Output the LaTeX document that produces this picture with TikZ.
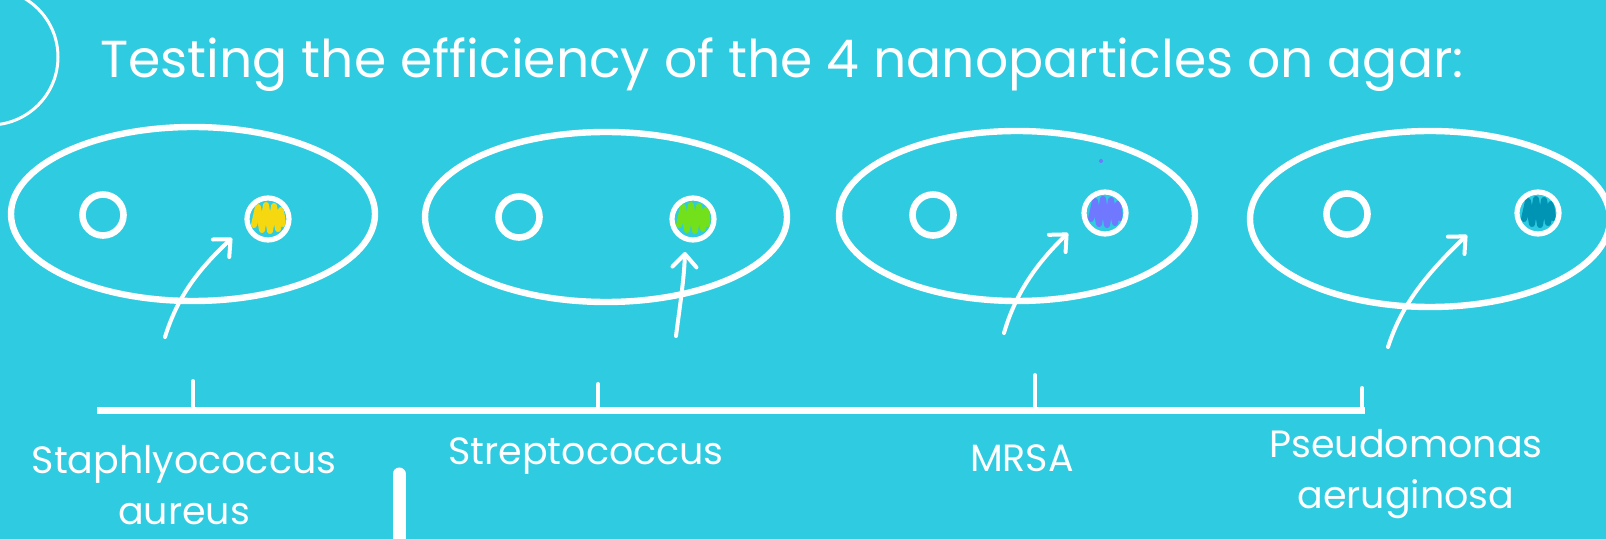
\documentclass[tikz,border=0pt]{standalone}
\usepackage{fontspec}
\setmainfont{Poppins}
\usetikzlibrary{shapes.geometric,arrows.meta}
\definecolor{bgcyan}{RGB}{47,203,224}
\definecolor{scribY}{RGB}{245,216,16}
\definecolor{scribG}{RGB}{114,224,26}
\definecolor{scribB}{RGB}{111,120,255}
\definecolor{scribT}{RGB}{0,148,180}
\tikzset{
  dish/.style={ellipse, draw=white, line width=3.2pt, inner sep=0pt},
  well/.style={circle, draw=white, line width=3.3pt, minimum size=20.5pt, inner sep=0pt},
  pointer/.style={draw=white, line width=2pt, line cap=round,
    -{Straight Barb[length=6.5pt,width=12pt,line cap=round,line join=round]}},
  tickmark/.style={draw=white, line width=2pt, line cap=round},
  lbl/.style={text=white, font=\fontsize{19}{25.5}\selectfont, align=center, inner sep=0pt},
  scrib/.style={draw=#1, line width=3pt, line join=round, line cap=round}
}
\begin{document}
\begin{tikzpicture}[x=0.5pt,y=-0.5pt]
\useasboundingbox (0,0) rectangle (1606,539);
\clip (0,0) rectangle (1606,539);
\fill[bgcyan] (0,0) rectangle (1606,539);

% top-left decorative circle
\draw[white, line width=1.5pt] (-10,57) circle (34pt);

% title
\node[anchor=base west, text=white, inner sep=0pt, font=\fontsize{26}{30}\selectfont] (title) at (100,78)
  {Testing the efficiency of the 4 nanoparticles on agar:};

% dishes
\node[dish, minimum width=182pt, minimum height=87pt] (d1) at (193,214) {};
\node[dish, minimum width=181pt, minimum height=85pt] (d2) at (606,217) {};
\node[dish, minimum width=178pt, minimum height=85pt] (d3) at (1017,216) {};
\node[dish, minimum width=180pt, minimum height=88pt] (d4) at (1430,219) {};

% control wells
\node[well] (w1a) at (103,215) {};
\node[well] (w2a) at (519,217) {};
\node[well] (w3a) at (933,215) {};
\node[well] (w4a) at (1347,214) {};

% treated wells (scribbles)
\foreach \n/\px/\py/\c in {w1b/268/219/scribY, w2b/693/219/scribG, w3b/1105/213/scribB, w4b/1538/213/scribT}{
  \begin{scope}
    \clip (\px,\py) circle (9pt);
    \draw[scrib=\c, shift={(\px,\py)}] (-14,6) -- (-10,-12) -- (-6,11) -- (-2,-14) -- (2,12) -- (6,-13) -- (10,10) -- (13,-9) -- (15,5);
  \end{scope}
  \node[circle, draw=white, line width=2.6pt, minimum size=21pt, inner sep=0pt] (\n) at (\px,\py) {};
}

% stray dot
\fill[scribB] (1101,161) circle (1pt);

% arrows
\coordinate (a1t) at (165,337); \coordinate (a1h) at (232,238);
\coordinate (a2t) at (676,336); \coordinate (a2h) at (685,252);
\coordinate (a3t) at (1004,333); \coordinate (a3h) at (1068,233);
\coordinate (a4t) at (1388,347); \coordinate (a4h) at (1467,235);
\draw[pointer] (a1t) .. controls (178,295) and (200,268) .. (a1h);
\draw[pointer] (a2t) .. controls (680,305) and (684,280) .. (a2h);
\draw[pointer] (a3t) .. controls (1015,295) and (1035,265) .. (a3h);
\draw[pointer] (a4t) .. controls (1400,310) and (1420,280) .. (a4h);

% timeline
\coordinate (tl0) at (97,411);
\coordinate (tl1) at (1365,411);
\draw[white, line width=3.5pt] (tl0) -- (tl1);
\coordinate (t1) at (193,381); \coordinate (t1b) at (193,411);
\coordinate (t2) at (598,384); \coordinate (t2b) at (598,411);
\coordinate (t3) at (1035,375); \coordinate (t3b) at (1035,411);
\coordinate (t4) at (1362,388); \coordinate (t4b) at (1362,411);
\draw[tickmark] (t1) -- (t1b);
\draw[tickmark] (t2) -- (t2b);
\draw[tickmark] (t3) -- (t3b);
\draw[tickmark] (t4) -- (t4b);

% labels
\node[lbl] (l1) at (184,485) {Staphlyococcus\\aureus};
\node[lbl] (l2) at (586,456) {Streptococcus};
\node[lbl] (l3) at (1022,458) {MRSA};
\node[lbl] (l4) at (1406,474) {Pseudomonas\\aeruginosa};

% bottom bar
\coordinate (bar0) at (399,474);
\coordinate (bar1) at (399,560);
\draw[white, line width=6.5pt, line cap=round] (bar0) -- (bar1);
\end{tikzpicture}
\end{document}
